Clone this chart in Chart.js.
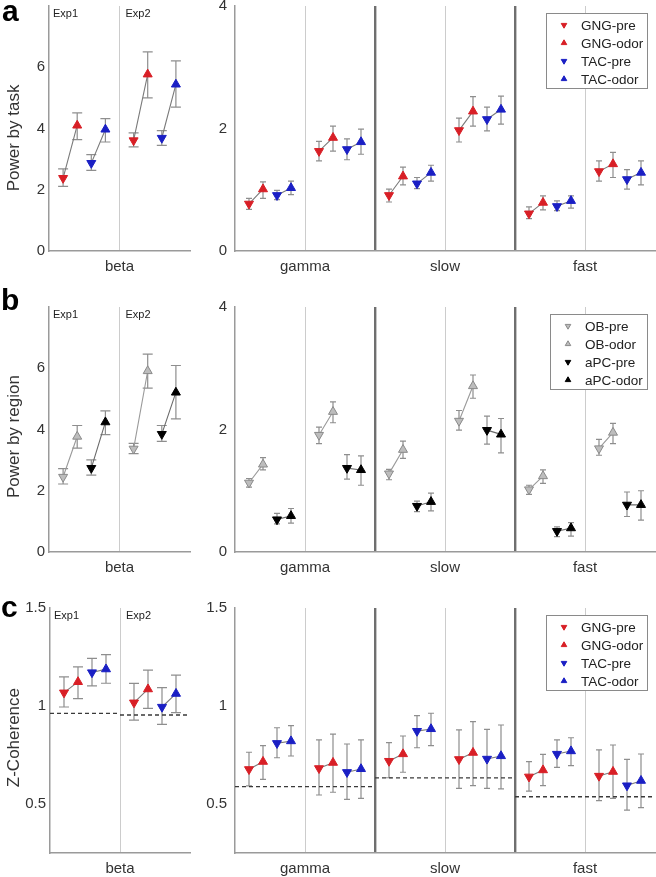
<!DOCTYPE html>
<html>
<head>
<meta charset="utf-8">
<script src="https://cdn.jsdelivr.net/npm/chart.js@4/dist/chart.umd.min.js"></script>
<style>
  body { margin: 0; background: #fff; width: 656px; height: 877px; position: relative; overflow: hidden; }
  .box { position: absolute; }
  .tag { position: absolute; font: bold 30px "Liberation Sans", Arial, sans-serif; line-height: 1; color: #000; z-index: 2; }
</style>
</head>
<body>
<div class="tag" style="left:2px;top:-4px">a</div>
<div class="tag" style="left:1px;top:285px">b</div>
<div class="tag" style="left:1px;top:592px">c</div>

<div class="box" style="left:0;top:-11px;width:196px;height:296px"><canvas id="a1"></canvas></div>
<div class="box" style="left:196px;top:-11px;width:460px;height:296px"><canvas id="a2"></canvas></div>
<div class="box" style="left:0;top:290px;width:196px;height:290px"><canvas id="b1"></canvas></div>
<div class="box" style="left:196px;top:290px;width:460px;height:290px"><canvas id="b2"></canvas></div>
<div class="box" style="left:0;top:580px;width:196px;height:297px"><canvas id="c1"></canvas></div>
<div class="box" style="left:196px;top:580px;width:460px;height:297px"><canvas id="c2"></canvas></div>

<script>
// order of every series below: beta Exp1, beta Exp2, gamma Exp1, gamma Exp2, slow Exp1, slow Exp2, fast Exp1, fast Exp2
const bands = ['beta', 'gamma', 'slow', 'fast'];
const expNames = ['Exp1', 'Exp2'];
const offsets = [0.2, 0.4, 0.6, 0.8];
const taskLabels = ['GNG-pre', 'GNG-odor', 'TAC-pre', 'TAC-odor'];
const regionLabels = ['OB-pre', 'OB-odor', 'aPC-pre', 'aPC-odor'];
const powerTicksLeft = [0, 2, 4, 6];
const powerTicksRight = [0, 2, 4];
const cohTicks = [0.5, 1, 1.5];

// a: power by task
const taskGngPre = [2.38, 3.61, 0.77, 1.63, 0.91, 1.97, 0.61, 1.30];
const taskGngPreErr = [[2.11, 2.68], [3.40, 3.86], [0.68, 0.86], [1.47, 1.79], [0.80, 1.01], [1.78, 2.17], [0.53, 0.72], [1.14, 1.47]];
const taskGngOdor = [4.10, 5.77, 1.01, 1.85, 1.22, 2.28, 0.79, 1.42];
const taskGngOdorErr = [[3.64, 4.51], [5.00, 6.50], [0.86, 1.13], [1.63, 2.04], [1.08, 1.37], [2.04, 2.52], [0.67, 0.90], [1.20, 1.61]];
const taskTacPre = [2.87, 3.69, 0.91, 1.66, 1.10, 2.15, 0.73, 1.17];
const taskTacPreErr = [[2.63, 3.15], [3.45, 3.93], [0.84, 0.99], [1.49, 1.83], [1.02, 1.20], [1.96, 2.35], [0.66, 0.82], [1.01, 1.33]];
const taskTacOdor = [3.97, 5.44, 1.03, 1.78, 1.28, 2.31, 0.82, 1.28];
const taskTacOdorErr = [[3.56, 4.32], [4.70, 6.21], [0.92, 1.14], [1.58, 1.99], [1.14, 1.40], [2.07, 2.53], [0.70, 0.90], [1.08, 1.47]];

// b: power by region
const regObPre = [2.45, 3.37, 1.13, 1.91, 1.28, 2.14, 1.02, 1.69];
const regObPreErr = [[2.22, 2.72], [3.21, 3.55], [1.06, 1.20], [1.77, 2.04], [1.18, 1.35], [1.99, 2.31], [0.94, 1.09], [1.58, 1.84]];
const regObOdor = [3.77, 5.91, 1.43, 2.29, 1.67, 2.71, 1.24, 1.95];
const regObOdorErr = [[3.39, 4.13], [5.35, 6.46], [1.34, 1.54], [2.11, 2.45], [1.53, 1.81], [2.51, 2.89], [1.12, 1.34], [1.77, 2.10]];
const regApcPre = [2.74, 3.85, 0.53, 1.37, 0.75, 1.99, 0.34, 0.77];
const regApcPreErr = [[2.51, 3.01], [3.61, 4.13], [0.46, 0.63], [1.19, 1.59], [0.66, 0.83], [1.76, 2.22], [0.25, 0.41], [0.58, 0.98]];
const regApcOdor = [4.24, 5.21, 0.59, 1.34, 0.82, 1.92, 0.39, 0.77];
const regApcOdorErr = [[3.83, 4.61], [4.35, 6.09], [0.47, 0.71], [1.09, 1.57], [0.67, 0.96], [1.62, 2.18], [0.26, 0.48], [0.52, 1.00]];

// c: z-coherence
const cohGngPre = [1.068, 1.017, 0.677, 0.682, 0.719, 0.728, 0.639, 0.643];
const cohGngPreErr = [[0.995, 1.149], [0.928, 1.115], [0.592, 0.764], [0.546, 0.827], [0.634, 0.813], [0.580, 0.878], [0.566, 0.716], [0.517, 0.776]];
const cohGngOdor = [1.123, 1.086, 0.716, 0.711, 0.755, 0.762, 0.673, 0.665];
const cohGngOdorErr = [[1.038, 1.200], [0.988, 1.183], [0.626, 0.798], [0.560, 0.857], [0.662, 0.847], [0.594, 0.920], [0.594, 0.753], [0.529, 0.801]];
const cohTacPre = [1.171, 0.995, 0.810, 0.662, 0.872, 0.730, 0.755, 0.594];
const cohTacPreErr = [[1.103, 1.243], [0.906, 1.094], [0.736, 0.889], [0.524, 0.806], [0.787, 0.951], [0.580, 0.881], [0.687, 0.827], [0.469, 0.728]];
const cohTacOdor = [1.188, 1.063, 0.821, 0.679, 0.883, 0.745, 0.770, 0.619];
const cohTacOdorErr = [[1.116, 1.262], [0.966, 1.158], [0.745, 0.900], [0.529, 0.827], [0.798, 0.963], [0.577, 0.903], [0.696, 0.838], [0.481, 0.755]];
const cohChance = [0.962, 0.954, 0.589, 0.589, 0.633, 0.633, 0.537, 0.537];

const FONT = '"Liberation Sans", Arial, sans-serif';
Chart.defaults.font.family = FONT;
Chart.defaults.color = '#333';

const RED = '#d81f26';
const BLUE = '#1a1fc4';
const taskStyle = {
  fill: [RED, RED, BLUE, BLUE],
  edge: [RED, RED, BLUE, BLUE],
  link: ['#7a7a7a', '#7a7a7a'],
};
const regionStyle = {
  fill: ['#bdbdbd', '#bdbdbd', '#000', '#000'],
  edge: ['#8a8a8a', '#8a8a8a', '#000', '#000'],
  link: ['#9a9a9a', '#6a6a6a'],
};

function xOf(i, k, left) {
  const band = Math.floor(i / 2);
  const e = i % 2;
  const base = left ? 0 : (band - 1) * 2;
  return base + e + (k === null ? 0 : offsets[k]);
}

const errorBars = {
  id: 'errorBars',
  beforeDatasetsDraw(chart, args, opts) {
    const { ctx, scales: { x, y } } = chart;
    ctx.save();
    ctx.strokeStyle = opts.color;
    ctx.lineWidth = 1.2;
    chart.data.datasets.forEach((ds) => {
      if (!ds.errs) return;
      ds.data.forEach((p, j) => {
        const px = x.getPixelForValue(p.x);
        const y1 = y.getPixelForValue(ds.errs[j][0]);
        const y2 = y.getPixelForValue(ds.errs[j][1]);
        ctx.beginPath();
        ctx.moveTo(px, y1); ctx.lineTo(px, y2);
        ctx.moveTo(px - opts.cap, y1); ctx.lineTo(px + opts.cap, y1);
        ctx.moveTo(px - opts.cap, y2); ctx.lineTo(px + opts.cap, y2);
        ctx.stroke();
      });
    });
    ctx.restore();
  },
};

const expText = {
  id: 'expText',
  afterDraw(chart, args, opts) {
    if (!opts.show) return;
    const { ctx, chartArea, scales: { x } } = chart;
    ctx.save();
    ctx.font = '11px ' + FONT;
    ctx.fillStyle = '#222';
    ctx.textBaseline = 'top';
    expNames.forEach((t, e) => {
      ctx.fillText(t, x.getPixelForValue(e) + (e === 0 ? 4 : 6), chartArea.top + 2);
    });
    ctx.restore();
  },
};

const boxLegend = {
  id: 'boxLegend',
  afterDatasetsDraw(chart, args, opts) {
    if (!opts.show) return;
    const { ctx, chartArea } = chart;
    const items = chart.data.datasets.filter((d) => d.inLegend);
    ctx.save();
    ctx.font = '13.5px ' + FONT;
    const tw = Math.max(...items.map((d) => ctx.measureText(d.label).width));
    const w = Math.round(35 + tw + 4);
    const h = 75;
    const x0 = Math.round(chartArea.right - 8 - w);
    const y0 = Math.round(chartArea.top + 7);
    ctx.fillStyle = '#fff';
    ctx.fillRect(x0, y0, w, h);
    ctx.strokeStyle = '#8a8a8a';
    ctx.lineWidth = 1;
    ctx.strokeRect(x0 + 0.5, y0 + 0.5, w, h);
    items.forEach((d, k) => {
      const cy = y0 + 12 + k * 18;
      ctx.fillStyle = d.backgroundColor;
      ctx.strokeStyle = d.borderColor;
      ctx.lineWidth = 1;
      Chart.helpers.drawPoint(ctx, { pointStyle: 'triangle', rotation: d.rotation, radius: 3.2, borderWidth: 1 }, x0 + 18, cy);
      ctx.fillStyle = '#222';
      ctx.textBaseline = 'middle';
      ctx.fillText(d.label, x0 + 35, cy + 1);
    });
    ctx.restore();
  },
};

function panel(id, p) {
  const idxs = p.left ? [0, 1] : [2, 3, 4, 5, 6, 7];
  const datasets = [];

  if (p.chance) {
    const pts = [];
    idxs.forEach((i) => {
      pts.push({ x: xOf(i, null, p.left), y: p.chance[i] });
      pts.push({ x: xOf(i, null, p.left) + 1, y: p.chance[i] });
      pts.push({ x: xOf(i, null, p.left) + 1, y: null });
    });
    datasets.push({
      type: 'line', data: pts, showLine: true, spanGaps: false,
      borderColor: '#3a3a3a', borderWidth: 1.3, borderDash: [4, 3],
      pointRadius: 0, order: 4,
    });
  }

  [[0, 1], [2, 3]].forEach(([a, b], pi) => {
    const pts = [];
    idxs.forEach((i) => {
      pts.push({ x: xOf(i, a, p.left), y: p.series[a][i] });
      pts.push({ x: xOf(i, b, p.left), y: p.series[b][i] });
      pts.push({ x: xOf(i, b, p.left), y: null });
    });
    datasets.push({
      type: 'line', data: pts, showLine: true, spanGaps: false,
      borderColor: p.style.link[pi], borderWidth: 1.1,
      pointRadius: 0, order: 3,
    });
  });

  p.labels.forEach((lab, k) => {
    datasets.push({
      label: lab,
      inLegend: true,
      data: idxs.map((i) => ({ x: xOf(i, k, p.left), y: p.series[k][i] })),
      errs: idxs.map((i) => p.errs[k][i]),
      pointStyle: 'triangle',
      rotation: k % 2 === 0 ? 180 : 0,
      pointRadius: 5.2,
      backgroundColor: p.style.fill[k],
      borderColor: p.style.edge[k],
      borderWidth: 1,
      order: 1,
    });
  });

  const xTicks = p.left ? [1] : [1, 2, 3, 4, 5];

  return new Chart(document.getElementById(id), {
    type: 'scatter',
    data: { datasets },
    options: {
      responsive: true,
      maintainAspectRatio: false,
      animation: false,
      events: [],
      layout: { autoPadding: false, padding: { top: p.padTop, right: p.left ? 6 : 1, left: 0, bottom: 0 } },
      plugins: {
        legend: { display: false },
        tooltip: { enabled: false },
        errorBars: { cap: p.left ? 5 : 3, color: '#8e8e8e' },
        expText: { show: p.left },
        boxLegend: { show: !p.left },
      },
      scales: {
        x: {
          type: 'linear',
          min: 0,
          max: p.left ? 2 : 6,
          afterBuildTicks: (s) => { s.ticks = xTicks.map((v) => ({ value: v })); },
          afterFit: (s) => { s.height = p.xH; },
          ticks: {
            autoSkip: false, maxRotation: 0, padding: 7,
            font: { size: 15 }, color: '#333',
            callback: (v) => (v % 2 === 1 ? bands[p.left ? 0 : (v + 1) / 2] : ''),
          },
          grid: {
            drawTicks: false,
            color: (c) => (c.tick && c.tick.value % 2 === 0 ? '#6f6f6f' : '#cccccc'),
            lineWidth: (c) => (c.tick && c.tick.value % 2 === 0 ? 2.4 : 1),
          },
          border: { color: '#9a9a9a', width: 1.5 },
        },
        y: {
          min: p.yMin,
          max: p.yMax,
          afterBuildTicks: (s) => { s.ticks = p.yTicks.map((v) => ({ value: v })); },
          afterFit: (s) => { s.width = p.yW; },
          ticks: { padding: p.left ? 4 : 8, font: { size: 15 }, color: '#333', callback: (v) => String(v) },
          grid: { display: false, drawTicks: false },
          border: { color: '#9a9a9a', width: 1.5 },
          title: {
            // trailing spaces nudge the rotated title down, as in the original
            display: !!p.yTitle, text: p.yTitle ? p.yTitle + ' '.repeat(p.titlePad || 0) : '',
            font: { size: 17 }, color: '#333', padding: { top: 4, bottom: 0 },
          },
        },
      },
    },
    plugins: [errorBars, expText, boxLegend],
  });
}

const taskSeries = [taskGngPre, taskGngOdor, taskTacPre, taskTacOdor];
const taskErrs = [taskGngPreErr, taskGngOdorErr, taskTacPreErr, taskTacOdorErr];
const regSeries = [regObPre, regObOdor, regApcPre, regApcOdor];
const regErrs = [regObPreErr, regObOdorErr, regApcPreErr, regApcOdorErr];
const cohSeries = [cohGngPre, cohGngOdor, cohTacPre, cohTacOdor];
const cohErrs = [cohGngPreErr, cohGngOdorErr, cohTacPreErr, cohTacOdorErr];

panel('a1', { left: true, series: taskSeries, errs: taskErrs, labels: taskLabels, style: taskStyle,
  yMin: 0, yMax: 8, yTicks: powerTicksLeft, yTitle: 'Power by task', titlePad: 4, yW: 49, padTop: 17, xH: 34 });
panel('a2', { left: false, series: taskSeries, errs: taskErrs, labels: taskLabels, style: taskStyle,
  yMin: 0, yMax: 4, yTicks: powerTicksRight, yW: 39, padTop: 17, xH: 34 });
panel('b1', { left: true, series: regSeries, errs: regErrs, labels: regionLabels, style: regionStyle,
  yMin: 0, yMax: 8, yTicks: powerTicksLeft, yTitle: 'Power by region', titlePad: 3, yW: 49, padTop: 17, xH: 28 });
panel('b2', { left: false, series: regSeries, errs: regErrs, labels: regionLabels, style: regionStyle,
  yMin: 0, yMax: 4, yTicks: powerTicksRight, yW: 39, padTop: 17, xH: 28 });
panel('c1', { left: true, series: cohSeries, errs: cohErrs, labels: taskLabels, style: taskStyle, chance: cohChance,
  yMin: 0.25, yMax: 1.5, yTicks: cohTicks, yTitle: 'Z-Coherence', titlePad: 3, yW: 50, padTop: 28, xH: 24 });
panel('c2', { left: false, series: cohSeries, errs: cohErrs, labels: taskLabels, style: taskStyle, chance: cohChance,
  yMin: 0.25, yMax: 1.5, yTicks: cohTicks, yW: 39, padTop: 28, xH: 24 });
</script>
</body>
</html>
